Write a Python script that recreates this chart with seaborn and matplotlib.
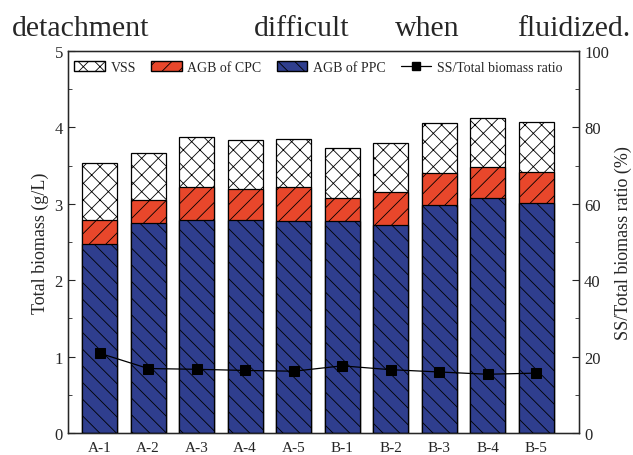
import matplotlib
matplotlib.use("Agg")
import matplotlib.pyplot as plt
import seaborn as sns
import numpy as np
import pandas as pd
from matplotlib.patches import Patch
from matplotlib.lines import Line2D
from matplotlib.ticker import MultipleLocator

samples = ["A-1", "A-2", "A-3", "A-4", "A-5", "B-1", "B-2", "B-3", "B-4", "B-5"]
agb_ppc = [2.47, 2.75, 2.79, 2.79, 2.77, 2.77, 2.72, 2.98, 3.07, 3.01]
agb_cpc = [0.32, 0.30, 0.43, 0.40, 0.45, 0.30, 0.44, 0.42, 0.41, 0.41]
vss = [0.75, 0.62, 0.65, 0.64, 0.63, 0.66, 0.64, 0.66, 0.64, 0.65]
ratio = [20.9, 16.9, 16.7, 16.4, 16.2, 17.6, 16.6, 16.0, 15.4, 15.7]

sns.set_style("white")
plt.rcParams["font.family"] = ["Liberation Serif", "DejaVu Serif"]
plt.rcParams["hatch.linewidth"] = 0.6

df = pd.DataFrame({"sample": samples, "ppc": agb_ppc, "cpc": agb_cpc, "vss": vss, "ratio": ratio})
df["top_cpc"] = df["ppc"] + df["cpc"]
df["top_vss"] = df["top_cpc"] + df["vss"]

fig = plt.figure(figsize=(6.33, 4.56), dpi=100)
ax = fig.add_axes([0.107, 0.048, 0.808, 0.838])

red = "#E8472B"
blue = "#2F3E8E"
layers = [("top_vss", "white", "xx"), ("top_cpc", red, "//"), ("ppc", blue, "\\\\")]
for col, color, hatch in layers:
    n_before = len(ax.patches)
    sns.barplot(data=df, x="sample", y=col, color=color, width=0.72, ax=ax,
                saturation=1, edgecolor="black", linewidth=0.9, errorbar=None)
    for p in ax.patches[n_before:]:
        p.set_hatch(hatch)
        p.set_facecolor(color)
        p.set_edgecolor("black")

ax.set_xlim(-0.66, 9.89)
ax.set_ylim(0, 5)
ax.set_ylabel("Total biomass (g/L)", fontsize=13)
ax.set_xlabel("")
ax.yaxis.set_major_locator(MultipleLocator(1))
ax.yaxis.set_minor_locator(MultipleLocator(0.5))
ax.tick_params(axis="y", which="both", direction="in", left=True, labelsize=12)
ax.tick_params(axis="y", which="major", length=5)
ax.tick_params(axis="y", which="minor", length=3)
ax.tick_params(axis="x", bottom=False, labelsize=11, pad=2)
for s in ax.spines.values():
    s.set_color("black")
    s.set_linewidth(1.0)

ax2 = ax.twinx()
sns.lineplot(data=df, x="sample", y="ratio", ax=ax2, color="black", marker="s",
             markersize=7, linewidth=0.9, markeredgecolor="black")
ax2.set_ylim(0, 100)
ax2.set_ylabel("SS/Total biomass ratio (%)", fontsize=13)
ax2.yaxis.set_major_locator(MultipleLocator(20))
ax2.yaxis.set_minor_locator(MultipleLocator(10))
ax2.tick_params(axis="y", which="both", direction="in", right=True, labelsize=12)
ax2.tick_params(axis="y", which="major", length=5)
ax2.tick_params(axis="y", which="minor", length=3)
ax2.set_xlim(-0.66, 9.89)

handles = [
    Patch(facecolor="white", edgecolor="black", hatch="xx", label="VSS"),
    Patch(facecolor=red, edgecolor="black", hatch="//", label="AGB of CPC"),
    Patch(facecolor=blue, edgecolor="black", hatch="\\\\", label="AGB of PPC"),
    Line2D([0], [0], color="black", marker="s", markersize=6, linewidth=0.9,
           label="SS/Total biomass ratio"),
]
ax2.legend(handles=handles, loc="upper center", ncol=4, frameon=False, fontsize=10,
           bbox_to_anchor=(0.49, 1.0), handlelength=2.2, columnspacing=1.1,
           handletextpad=0.4, borderaxespad=0.3)

words = [("detachment", 0.019, "left"), ("difficult", 0.476, "center"),
         ("when", 0.675, "center"), ("fluidized.", 0.996, "right")]
for w, xx, ha in words:
    fig.text(xx, 0.937, w, fontsize=21.5, ha=ha, va="center")

fig.savefig("out.png", dpi=100)
